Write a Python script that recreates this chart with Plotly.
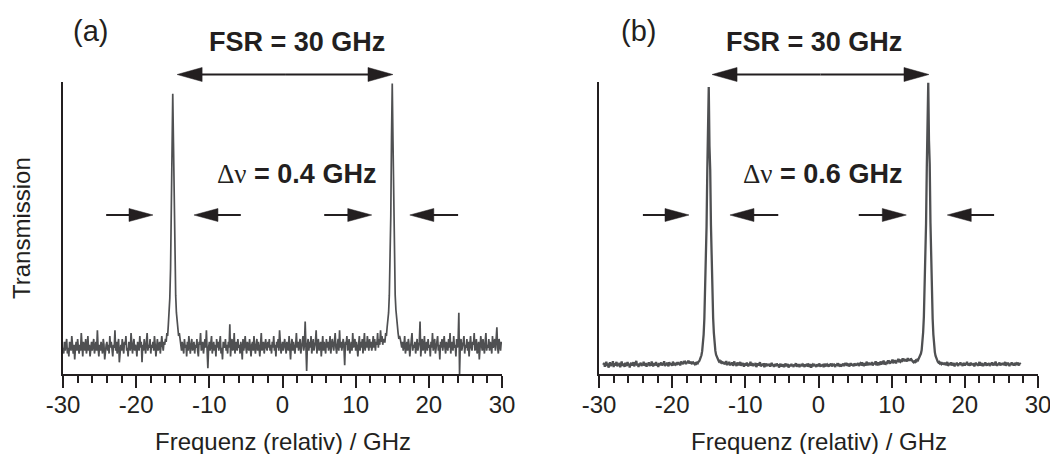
import numpy as np
import plotly.graph_objects as go

# ---------------- data ----------------
# frequency sampling grids (GHz, relative), step 0.1 GHz
freq_a = np.linspace(-30.0, 30.0, 601)
freq_b = np.linspace(-29.4, 27.6, 571)

# transmission (arb. units), panel (a)
trans_a = [
    # -30.0 .. -16.1
    0.09, 0.07, 0.11, 0.08, 0.10, 0.12, 0.07, 0.09, 0.06, 0.11, 0.10, 0.08, 0.13, 0.09, 0.07, 0.10, 0.05, 0.09, 0.11, 0.08,
    0.12, 0.09, 0.07, 0.10, 0.08, 0.14, 0.09, 0.06, 0.11, 0.10, 0.08, 0.12, 0.07, 0.09, 0.13, 0.08, 0.10, 0.06, 0.09, 0.11,
    0.08, 0.10, 0.12, 0.07, 0.09, 0.11, 0.08, 0.15, 0.09, 0.06, 0.10, 0.08, 0.11, 0.09, 0.07, 0.12, 0.10, 0.05, 0.09, 0.10,
    0.11, 0.08, 0.10, 0.07, 0.13, 0.09, 0.11, 0.08, 0.06, 0.10, 0.09, 0.15, 0.08, 0.11, 0.07, 0.10, 0.12, 0.04, 0.09, 0.10,
    0.08, 0.12, 0.09, 0.07, 0.11, 0.10, 0.13, 0.08, 0.09, 0.06, 0.11, 0.10, 0.08, 0.14, 0.09, 0.07, 0.10, 0.12, 0.08, 0.10,
    0.09, 0.06, 0.11, 0.10, 0.08, 0.13, 0.09, 0.11, 0.04, 0.10, 0.08, 0.12, 0.09, 0.07, 0.11, 0.14, 0.08, 0.10, 0.09, 0.12,
    0.07, 0.10, 0.09, 0.11, 0.08, 0.13, 0.10, 0.06, 0.09, 0.12, 0.08, 0.10, 0.11, 0.07, 0.09, 0.13, 0.10, 0.08, 0.11, 0.10,
    # -16.0 .. -14.0 (resonance)
    0.12, 0.11, 0.14, 0.13, 0.17, 0.20, 0.26, 0.36, 0.52, 0.78, 0.96,
    0.79, 0.53, 0.37, 0.27, 0.21, 0.17, 0.16, 0.13, 0.14, 0.11,
    # -13.9 .. 13.9
    0.10, 0.08, 0.11, 0.09, 0.07, 0.12, 0.09, 0.10, 0.06, 0.11, 0.08, 0.13, 0.09, 0.07, 0.10, 0.12, 0.08, 0.09, 0.11, 0.07,
    0.10, 0.09, 0.12, 0.08, 0.06, 0.11, 0.10, 0.14, 0.08, 0.09, 0.11, 0.07, 0.10, 0.12, 0.09, 0.15, 0.08, 0.02, 0.09, 0.11,
    0.08, 0.10, 0.13, 0.07, 0.09, 0.11, 0.08, 0.10, 0.06, 0.12, 0.09, 0.11, 0.08, 0.10, 0.13, 0.07, 0.09, 0.05, 0.11, 0.10,
    0.09, 0.12, 0.08, 0.10, 0.07, 0.11, 0.09, 0.17, 0.06, 0.10, 0.12, 0.08, 0.09, 0.14, 0.07, 0.10, 0.11, 0.08, 0.12, 0.09,
    0.10, 0.07, 0.11, 0.09, 0.05, 0.12, 0.08, 0.10, 0.13, 0.09, 0.07, 0.11, 0.10, 0.08, 0.12, 0.09, 0.06, 0.10, 0.11, 0.08,
    0.13, 0.09, 0.07, 0.10, 0.12, 0.08, 0.11, 0.09, 0.06, 0.10, 0.14, 0.08, 0.09, 0.11, 0.07, 0.10, 0.12, 0.09, 0.08, 0.11,
    0.09, 0.12, 0.08, 0.10, 0.07, 0.11, 0.09, 0.13, 0.08, 0.10, 0.06, 0.11, 0.09, 0.12, 0.08, 0.15, 0.10, 0.07, 0.09, 0.11,
    0.08, 0.10, 0.12, 0.09, 0.07, 0.11, 0.10, 0.08, 0.13, 0.09, 0.05, 0.10, 0.12, 0.08, 0.11, 0.09, 0.07, 0.10, 0.14, 0.09,
    0.11, 0.08, 0.10, 0.12, 0.07, 0.09, 0.11, 0.13, 0.08, 0.10, 0.18, 0.09, 0.01, 0.10, 0.12, 0.08, 0.11, 0.09, 0.13, 0.07,
    0.10, 0.12, 0.08, 0.09, 0.11, 0.15, 0.07, 0.10, 0.12, 0.08, 0.09, 0.11, 0.06, 0.10, 0.13, 0.08, 0.11, 0.09, 0.07, 0.12,
    0.09, 0.11, 0.08, 0.10, 0.13, 0.07, 0.09, 0.12, 0.10, 0.08, 0.11, 0.14, 0.09, 0.07, 0.10, 0.12, 0.08, 0.15, 0.09, 0.11,
    0.08, 0.10, 0.12, 0.09, 0.03, 0.11, 0.10, 0.13, 0.08, 0.09, 0.12, 0.07, 0.10, 0.11, 0.08, 0.14, 0.09, 0.10, 0.12, 0.08,
    0.11, 0.09, 0.06, 0.10, 0.13, 0.08, 0.11, 0.09, 0.12, 0.07, 0.10, 0.14, 0.08, 0.11, 0.09, 0.13, 0.10, 0.08, 0.12, 0.09,
    0.11, 0.08, 0.10, 0.13, 0.09, 0.12, 0.08, 0.11, 0.10, 0.14, 0.09, 0.12, 0.10, 0.15, 0.11, 0.13, 0.10, 0.12, 0.11,
    # 14.0 .. 16.0 (resonance)
    0.11, 0.14, 0.13, 0.16, 0.18, 0.21, 0.27, 0.37, 0.54, 0.81, 0.995,
    0.80, 0.54, 0.37, 0.27, 0.22, 0.18, 0.15, 0.14, 0.12, 0.13,
    # 16.1 .. 30.0
    0.12, 0.10, 0.09, 0.11, 0.08, 0.10, 0.13, 0.07, 0.09, 0.11, 0.08, 0.12, 0.10, 0.06, 0.09, 0.11, 0.14, 0.08, 0.10, 0.09,
    0.11, 0.07, 0.10, 0.12, 0.08, 0.09, 0.11, 0.18, 0.06, 0.10, 0.12, 0.08, 0.09, 0.13, 0.07, 0.10, 0.11, 0.08, 0.12, 0.09,
    0.10, 0.06, 0.11, 0.09, 0.14, 0.08, 0.10, 0.12, 0.07, 0.09, 0.11, 0.13, 0.08, 0.10, 0.05, 0.11, 0.09, 0.12, 0.08, 0.10,
    0.13, 0.09, 0.07, 0.11, 0.10, 0.08, 0.12, 0.09, 0.14, 0.07, 0.10, 0.11, 0.08, 0.13, 0.09, 0.10, 0.06, 0.12, 0.09, 0.11,
    0.21, 0.00, 0.10, 0.12, 0.08, 0.09, 0.11, 0.13, 0.07, 0.10, 0.09, 0.12, 0.08, 0.11, 0.06, 0.10, 0.13, 0.09, 0.08, 0.11,
    0.10, 0.14, 0.08, 0.09, 0.12, 0.07, 0.10, 0.11, 0.05, 0.09, 0.13, 0.10, 0.08, 0.12, 0.09, 0.07, 0.11, 0.14, 0.08, 0.10,
    0.09, 0.12, 0.08, 0.11, 0.10, 0.07, 0.13, 0.09, 0.10, 0.12, 0.08, 0.11, 0.16, 0.09, 0.07, 0.12, 0.10, 0.08, 0.11, 0.10,
]

# transmission (arb. units), panel (b)
trans_b = [
    # -29.4 .. -17.1
    0.031, 0.038, 0.025, 0.034, 0.042, 0.028, 0.036, 0.022, 0.033, 0.040, 0.027, 0.035, 0.030, 0.044, 0.024, 0.037, 0.029, 0.033, 0.041, 0.026,
    0.035, 0.030, 0.038, 0.023, 0.032, 0.043, 0.028, 0.036, 0.031, 0.025, 0.039, 0.033, 0.027, 0.041, 0.030, 0.035, 0.022, 0.034, 0.038, 0.029,
    0.033, 0.040, 0.026, 0.031, 0.037, 0.045, 0.029, 0.034, 0.024, 0.036, 0.032, 0.039, 0.027, 0.035, 0.030, 0.042, 0.028, 0.033, 0.038, 0.025,
    0.034, 0.031, 0.040, 0.027, 0.036, 0.029, 0.043, 0.032, 0.026, 0.037, 0.033, 0.030, 0.041, 0.028, 0.035, 0.024, 0.038, 0.031, 0.034, 0.039,
    0.029, 0.036, 0.032, 0.044, 0.027, 0.035, 0.030, 0.039, 0.033, 0.026, 0.040, 0.034, 0.031, 0.037, 0.028, 0.042, 0.035, 0.030, 0.038, 0.033,
    0.036, 0.031, 0.041, 0.034, 0.038, 0.029, 0.043, 0.035, 0.039, 0.033, 0.045, 0.037, 0.040, 0.034, 0.042, 0.038, 0.046, 0.036, 0.041, 0.039,
    0.037, 0.042, 0.035, 0.039,
    # -17.0 .. -13.0 (resonance)
    0.036, 0.033, 0.037, 0.035, 0.039, 0.037, 0.042, 0.044, 0.050, 0.055,
    0.064, 0.078, 0.098, 0.135, 0.190, 0.275, 0.370, 0.505, 0.695, 0.885,
    0.983, 0.780, 0.700, 0.510, 0.375, 0.280, 0.192, 0.140, 0.102, 0.080,
    0.066, 0.058, 0.051, 0.048, 0.043, 0.045, 0.040, 0.042, 0.038, 0.040,
    0.037,
    # -12.9 .. 12.9
    0.036, 0.041, 0.033, 0.045, 0.030, 0.038, 0.034, 0.042, 0.029, 0.037, 0.033, 0.040, 0.028, 0.036, 0.043, 0.031, 0.035, 0.027, 0.039, 0.034,
    0.030, 0.037, 0.041, 0.028, 0.034, 0.031, 0.038, 0.025, 0.035, 0.032, 0.029, 0.039, 0.033, 0.026, 0.036, 0.030, 0.042, 0.028, 0.033, 0.037,
    0.027, 0.034, 0.030, 0.038, 0.024, 0.032, 0.036, 0.029, 0.033, 0.040, 0.026, 0.031, 0.035, 0.028, 0.037, 0.023, 0.032, 0.030, 0.036, 0.027,
    0.033, 0.029, 0.035, 0.025, 0.031, 0.038, 0.028, 0.032, 0.024, 0.034, 0.030, 0.027, 0.036, 0.029, 0.033, 0.022, 0.031, 0.035, 0.026, 0.030,
    0.028, 0.033, 0.024, 0.031, 0.036, 0.027, 0.030, 0.034, 0.022, 0.029, 0.032, 0.026, 0.035, 0.028, 0.031, 0.024, 0.033, 0.029, 0.037, 0.025,
    0.030, 0.027, 0.034, 0.023, 0.031, 0.028, 0.035, 0.026, 0.032, 0.029, 0.024, 0.033, 0.030, 0.027, 0.036, 0.025, 0.031, 0.028, 0.034, 0.022,
    0.029, 0.032, 0.026, 0.035, 0.028, 0.031, 0.024, 0.033, 0.030, 0.027, 0.036, 0.029, 0.025, 0.032, 0.028, 0.034, 0.023, 0.031, 0.029, 0.035,
    0.027, 0.032, 0.030, 0.025, 0.034, 0.029, 0.036, 0.026, 0.031, 0.028, 0.035, 0.030, 0.024, 0.033, 0.029, 0.037, 0.027, 0.032, 0.030, 0.026,
    0.034, 0.029, 0.031, 0.036, 0.027, 0.033, 0.030, 0.038, 0.028, 0.032, 0.035, 0.026, 0.031, 0.037, 0.029, 0.034, 0.030, 0.027, 0.036, 0.032,
    0.029, 0.035, 0.031, 0.038, 0.027, 0.033, 0.036, 0.030, 0.040, 0.028, 0.034, 0.031, 0.037, 0.029, 0.035, 0.042, 0.030, 0.033, 0.039, 0.031,
    0.036, 0.032, 0.041, 0.029, 0.035, 0.038, 0.033, 0.044, 0.030, 0.037, 0.034, 0.040, 0.031, 0.036, 0.043, 0.033, 0.038, 0.035, 0.046, 0.032,
    0.039, 0.036, 0.042, 0.034, 0.047, 0.038, 0.041, 0.035, 0.044, 0.039, 0.050, 0.037, 0.043, 0.040, 0.048, 0.036, 0.045, 0.042, 0.052, 0.040,
    0.046, 0.043, 0.049, 0.041, 0.054, 0.045, 0.048, 0.044, 0.051, 0.047, 0.043, 0.055, 0.046, 0.050, 0.045, 0.053, 0.048, 0.044, 0.042,
    # 13.0 .. 17.0 (resonance)
    0.040, 0.043, 0.041, 0.046, 0.044, 0.049, 0.047, 0.053, 0.056, 0.062,
    0.070, 0.082, 0.104, 0.142, 0.195, 0.285, 0.380, 0.515, 0.705, 0.895,
    0.997, 0.800, 0.720, 0.520, 0.380, 0.280, 0.190, 0.135, 0.098, 0.075,
    0.062, 0.052, 0.046, 0.042, 0.039, 0.041, 0.036, 0.038, 0.034, 0.037,
    0.035,
    # 17.1 .. 27.6
    0.036, 0.032, 0.039, 0.030, 0.035, 0.041, 0.028, 0.034, 0.037, 0.031, 0.040, 0.029, 0.035, 0.033, 0.038, 0.026, 0.034, 0.031, 0.039, 0.032,
    0.028, 0.036, 0.033, 0.040, 0.030, 0.035, 0.027, 0.038, 0.032, 0.029, 0.037, 0.034, 0.042, 0.030, 0.033, 0.036, 0.028, 0.039, 0.031, 0.035,
    0.030, 0.037, 0.026, 0.034, 0.039, 0.031, 0.036, 0.028, 0.033, 0.041, 0.029, 0.035, 0.032, 0.038, 0.027, 0.034, 0.030, 0.040, 0.033, 0.029,
    0.036, 0.031, 0.038, 0.027, 0.035, 0.032, 0.040, 0.029, 0.034, 0.037, 0.030, 0.043, 0.033, 0.028, 0.036, 0.031, 0.039, 0.034, 0.029, 0.037,
    0.032, 0.038, 0.030, 0.035, 0.041, 0.028, 0.034, 0.031, 0.039, 0.033, 0.027, 0.036, 0.032, 0.040, 0.030, 0.035, 0.029, 0.038, 0.033, 0.036,
    0.031, 0.039, 0.034, 0.029, 0.037, 0.033,
]

tick_vals = [-30, -20, -10, 0, 10, 20, 30]
tick_text = ["-30", "-20", "-10", "0", "10", "20", "30"]
panel_labels = ["(a)", "(b)"]
fsr_label = "FSR = 30 GHz"
linewidth_labels = ["0.4 GHz", "0.6 GHz"]
x_title = "Frequenz (relativ) / GHz"
y_title = "Transmission"

# annotation arrow positions in GHz (tail, tip)
fsr_arrows = [(-14.4, 15.1), (-14.55, 15.1)]
width_arrows = [
    [(-24.1, -17.7), (-5.7, -12.1), (5.7, 12.2), (24.0, 17.4)],
    [(-24.0, -17.7), (-5.5, -12.1), (5.5, 12.0), (24.0, 17.6)],
]

# ---------------- layout helpers ----------------
W, H = 1050, 454
INK = "#231f20"
TRACE = "#4f5052"
FONT = "Liberation Sans, Arial, Helvetica, sans-serif"
x_domains = [[63 / W, 502 / W], [599 / W, 1038 / W]]
y_domain = [1 - 374 / H, 1 - 82 / H]


def fx(panel, f):
    d0, d1 = x_domains[panel]
    return d0 + (f + 30) / 60 * (d1 - d0)


def py(pix):
    return 1 - pix / H


fig = go.Figure()
fig.add_trace(go.Scatter(x=freq_a, y=trans_a, mode="lines",
                         line=dict(color=TRACE, width=1.7), xaxis="x", yaxis="y",
                         hoverinfo="skip"))
fig.add_trace(go.Scatter(x=freq_b, y=trans_b, mode="lines",
                         line=dict(color=TRACE, width=2.3), xaxis="x2", yaxis="y2",
                         hoverinfo="skip"))

xaxis_style = dict(range=[-30, 30], tickvals=tick_vals, ticktext=tick_text,
                   ticks="outside", ticklen=12, tickwidth=1.6, tickcolor=INK,
                   minor=dict(dtick=2, tick0=0, ticks="outside", ticklen=7,
                              tickwidth=1.6, tickcolor=INK),
                   showline=True, linewidth=2, linecolor=INK,
                   showgrid=False, zeroline=False, automargin=False,
                   ticklabeloverflow="allow", ticklabelstandoff=-4,
                   tickfont=dict(family=FONT, size=24, color=INK),
                   fixedrange=True)
yaxis_style = dict(range=[0, 1], domain=y_domain, showticklabels=False,
                   ticks="", showline=True, linewidth=2, linecolor=INK,
                   showgrid=False, zeroline=False, automargin=False,
                   fixedrange=True)

fig.update_layout(
    width=W, height=H, margin=dict(l=0, r=0, t=0, b=0, autoexpand=False),
    paper_bgcolor="white", plot_bgcolor="white", showlegend=False,
    xaxis=dict(domain=x_domains[0], anchor="y", **xaxis_style),
    yaxis=dict(anchor="x", **yaxis_style),
    xaxis2=dict(domain=x_domains[1], anchor="y2", **xaxis_style),
    yaxis2=dict(anchor="x2", **yaxis_style),
)

annotations = []
shapes = []


def arrow(panel, f_tail, f_tip, ypix, head_len=25, head_half=7, width=2):
    y = py(ypix)
    tail = fx(panel, f_tail)
    tip = fx(panel, f_tip)
    sgn = 1 if f_tip > f_tail else -1
    base = tip - sgn * head_len / W
    shapes.append(dict(type="line", xref="paper", yref="paper",
                       x0=tail, x1=base + sgn * 2 / W, y0=y, y1=y,
                       line=dict(color=INK, width=width)))
    hh = head_half / H
    shapes.append(dict(type="path", xref="paper", yref="paper",
                       path=f"M {tip},{y} L {base},{y + hh} L {base},{y - hh} Z",
                       fillcolor=INK, line=dict(color=INK, width=0.5)))


for p in range(2):
    annotations.append(dict(text=x_title, xref="paper", yref="paper",
                            x=(x_domains[p][0] + x_domains[p][1]) / 2, y=py(441),
                            xanchor="center", yanchor="middle", showarrow=False,
                            font=dict(family=FONT, size=24, color=INK)))
    annotations.append(dict(text=panel_labels[p], xref="paper", yref="paper",
                            x=fx(p, [-26.2, -24.6][p]), y=py(31),
                            xanchor="center", yanchor="middle", showarrow=False,
                            font=dict(family=FONT, size=29, color=INK)))
    annotations.append(dict(text="<b>" + fsr_label + "</b>", xref="paper", yref="paper",
                            x=fx(p, [2.0, -0.6][p]), y=py(42),
                            xanchor="center", yanchor="middle", showarrow=False,
                            font=dict(family=FONT, size=27, color=INK)))
    annotations.append(dict(
        text="<span style='font-family:Liberation Serif, Times New Roman, serif'>\u0394\u03bd</span>"
             "<b> = " + linewidth_labels[p] + "</b>",
        xref="paper", yref="paper",
        x=fx(p, [1.85, 0.6][p]), y=py(174),
        xanchor="center", yanchor="middle", showarrow=False,
        font=dict(family=FONT, size=27, color=INK)))
    a0, a1 = fsr_arrows[p]
    mid = (a0 + a1) / 2
    arrow(p, mid, a0, 74.5)
    arrow(p, mid, a1, 74.5)
    for t0, t1 in width_arrows[p]:
        arrow(p, t0, t1, 215, head_len=24, head_half=6.5)

annotations.append(dict(text=y_title, xref="paper", yref="paper",
                        x=21 / W, y=py(228), textangle=-90,
                        xanchor="center", yanchor="middle", showarrow=False,
                        font=dict(family=FONT, size=24, color=INK)))

fig.update_layout(annotations=annotations, shapes=shapes)
# page body without the browser's default 8px margin, so the figure fills the window
fig.write_html("out.html", config={"displayModeBar": False},
               post_script="document.body.style.margin='0px';document.body.style.overflow='hidden';")
